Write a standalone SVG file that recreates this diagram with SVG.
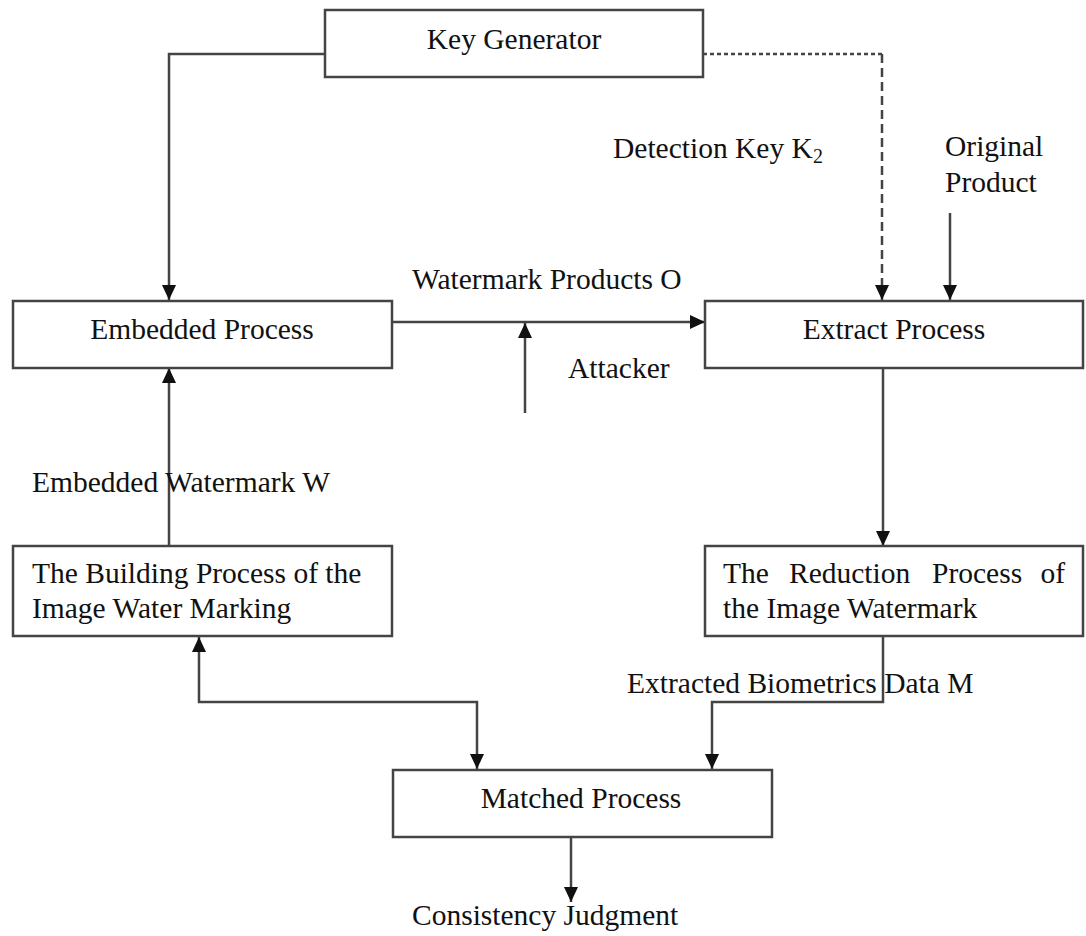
<svg xmlns="http://www.w3.org/2000/svg" width="1086" height="936" viewBox="0 0 1086 936">
  <style>
    .box { fill: #ffffff; stroke: #444444; stroke-width: 2.5; }
    .lbl { font-family: "Liberation Serif", "Times New Roman", serif; font-size: 29.5px; fill: #111111; }
    .mid { text-anchor: middle; }
    .wire { fill: none; stroke: #444444; stroke-width: 2.5; }
    .dash-h { stroke-dasharray: 4 3; }
    .dash-v { stroke-dasharray: 9 5; }
  </style>
  <defs>
    <marker id="arrow" markerUnits="userSpaceOnUse" markerWidth="17" markerHeight="17" viewBox="0 0 17 17" refX="16" refY="8.5" orient="auto-start-reverse">
      <path d="M1,1.5 L16,8.5 L1,15.5 Z" fill="#111111"/>
    </marker>
  </defs>
  <rect width="1086" height="936" fill="#ffffff"/>

  <!-- connectors -->
  <g id="connectors">
    <path class="wire" d="M325,54 H169 V300" marker-end="url(#arrow)"/>
    <!-- dashed key line: fine dashes across, longer dashes down -->
    <path class="wire dash-h" d="M703,54 H882"/>
    <path class="wire dash-v" d="M882,54 V300" marker-end="url(#arrow)"/>
    <path class="wire" d="M950,213 V300" marker-end="url(#arrow)"/>
    <path class="wire" d="M392,322 H705" marker-end="url(#arrow)"/>
    <path class="wire" d="M525,413 V323" marker-end="url(#arrow)"/>
    <path class="wire" d="M883,368 V546" marker-end="url(#arrow)"/>
    <path class="wire" d="M883,636 V702 H712 V769" marker-end="url(#arrow)"/>
    <path class="wire" d="M169,546 V368" marker-end="url(#arrow)"/>
    <path class="wire" d="M199,637 V702 H477 V769" marker-start="url(#arrow)" marker-end="url(#arrow)"/>
    <path class="wire" d="M571,837 V902" marker-end="url(#arrow)"/>
  </g>

  <!-- edge labels -->
  <g id="labels">
    <text class="lbl" x="613" y="158">Detection Key K<tspan font-size="20" dy="5">2</tspan></text>
    <text class="lbl" x="945" y="156">Original</text>
    <text class="lbl" x="945" y="192">Product</text>
    <text class="lbl" x="412" y="289">Watermark Products O</text>
    <text class="lbl" x="568" y="378">Attacker</text>
    <text class="lbl" x="32" y="492">Embedded Watermark W</text>
    <text class="lbl" x="627" y="693">Extracted Biometrics Data M</text>
    <text class="lbl" x="412" y="925">Consistency Judgment</text>
  </g>

  <g id="key-generator">
    <rect class="box" x="325" y="10" width="378" height="67"/>
    <text class="lbl mid" x="514" y="49">Key Generator</text>
  </g>

  <g id="embedded-process">
    <rect class="box" x="13" y="301" width="379" height="67"/>
    <text class="lbl mid" x="202" y="339">Embedded Process</text>
  </g>

  <g id="extract-process">
    <rect class="box" x="705" y="301" width="378" height="67"/>
    <text class="lbl mid" x="894" y="339">Extract Process</text>
  </g>

  <g id="building-process">
    <rect class="box" x="13" y="546" width="379" height="90"/>
    <text class="lbl" x="32" y="583">The Building Process of the</text>
    <text class="lbl" x="32" y="618">Image Water Marking</text>
  </g>

  <g id="reduction-process">
    <rect class="box" x="705" y="546" width="378" height="90"/>
    <text class="lbl" y="583"><tspan x="723">The</tspan><tspan x="789">Reduction</tspan><tspan x="932">Process</tspan><tspan x="1065" text-anchor="end">of</tspan></text>
    <text class="lbl" x="723" y="618">the Image Watermark</text>
  </g>

  <g id="matched-process">
    <rect class="box" x="393" y="770" width="379" height="67"/>
    <text class="lbl mid" x="581" y="808">Matched Process</text>
  </g>
</svg>
